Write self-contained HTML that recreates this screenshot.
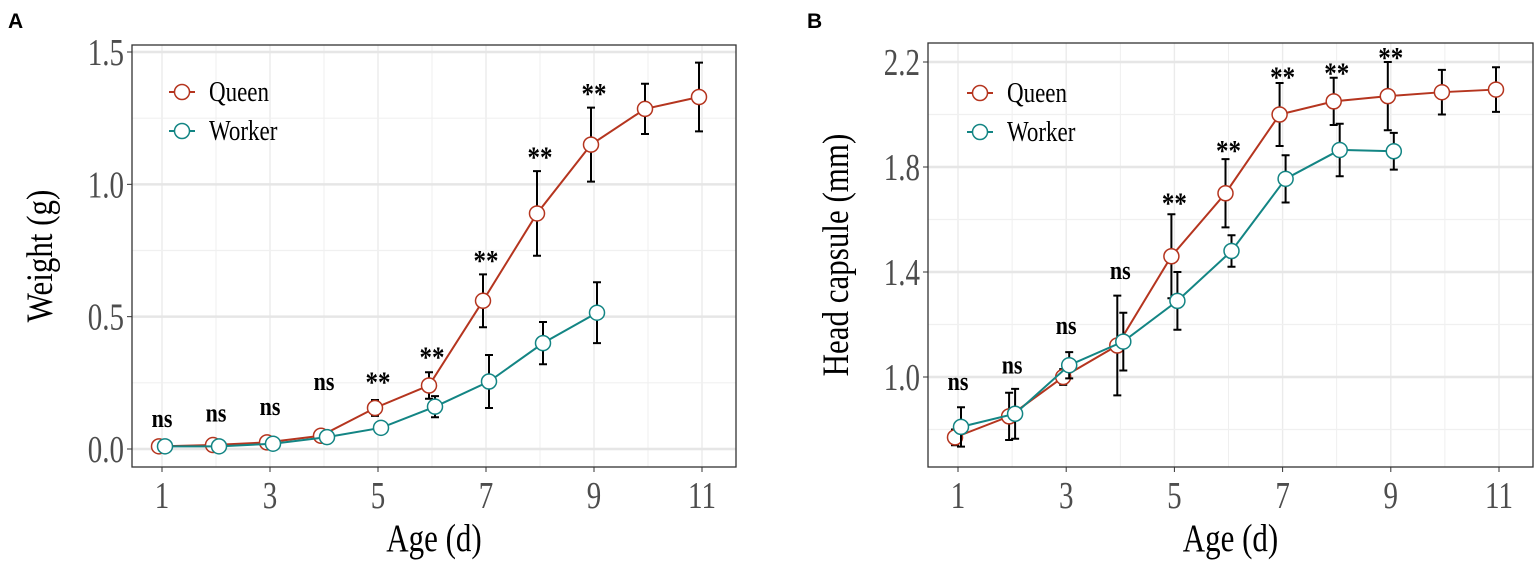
<!DOCTYPE html>
<html><head><meta charset="utf-8"><style>
body{margin:0;background:#fff;}
svg{display:block;font-family:"Liberation Serif",serif;}
.pl{font-family:"Liberation Sans",sans-serif;font-weight:bold;font-size:21px;}
</style></head><body>
<svg id="c" width="1535" height="561" viewBox="0 0 1535 561"></svg>
<script>
const ages=[1,2,3,4,5,6,7,8,9,10,11];
const weightQueen=[0.01,0.015,0.025,0.05,0.155,0.24,0.56,0.89,1.15,1.285,1.33];
const weightQueenErr=[0.005,0.005,0.008,0.01,0.03,0.05,0.1,0.16,0.14,0.095,0.13];
const weightWorker=[0.01,0.01,0.02,0.045,0.08,0.16,0.255,0.4,0.515];
const weightWorkerErr=[0.004,0.004,0.006,0.008,0.01,0.04,0.1,0.08,0.115];
const weightSig=["ns","ns","ns","ns","**","**","**","**","**"];
const weightSigY=[0.11,0.13,0.155,0.25,0.26,0.355,0.72,1.11,1.35];
const headQueen=[0.77,0.85,1.0,1.12,1.46,1.70,2.0,2.05,2.07,2.085,2.095];
const headQueenErr=[0.03,0.09,0.03,0.19,0.16,0.13,0.12,0.09,0.13,0.085,0.085];
const headWorker=[0.81,0.86,1.045,1.135,1.29,1.48,1.755,1.865,1.86];
const headWorkerErr=[0.075,0.095,0.05,0.11,0.11,0.06,0.09,0.1,0.07];
const headSig=["ns","ns","ns","ns","**","**","**","**","**"];
const headSigY=[0.977,1.04,1.19,1.40,1.67,1.87,2.15,2.165,2.225];
const xTicks=[1,3,5,7,9,11];
const weightTicks=[0.0,0.5,1.0,1.5];
const headTicks=[1.0,1.4,1.8,2.2];

const svg=document.getElementById('c');
const NS='http://www.w3.org/2000/svg';
function mk(tag,attrs,parent,text){const e=document.createElementNS(NS,tag);for(const k in attrs)e.setAttribute(k,attrs[k]);if(text!==undefined)e.textContent=text;(parent||svg).appendChild(e);return e;}

function panel(o){
  const g=mk('g',{});
  
  
  const X=v=>o.x1+(v-1)*(o.x11-o.x1)/10;
  const Y=v=>o.yA+(v-o.vA)*(o.yB-o.yA)/(o.vB-o.vA);
  const minorX=[];for(let v=0;v<=12;v+=1)minorX.push(v);
  minorX.forEach(v=>{const x=X(v);if(x>o.L&&x<o.R){const l=mk('line',{x1:x,x2:x,y1:o.T,y2:o.B,stroke:'#ebebeb','stroke-width':v%2?1.4:0.8},g);}});
  const st=o.ticks[1]-o.ticks[0];
  for(let v=o.ticks[0]-st*2;v<=o.ticks[o.ticks.length-1]+st*2;v+=st/2){const y=Y(v);if(y>o.T&&y<o.B){const major=o.ticks.some(t=>Math.abs(t-v)<1e-6);const l=mk('line',{x1:o.L,x2:o.R,y1:y,y2:y,stroke:major?'#e6e6e6':'#f0f0f0','stroke-width':major?2.5:1.2},g);}}
  const bx=mk('rect',{x:o.L,y:o.T,width:o.R-o.L,height:o.B-o.T,fill:'none',stroke:'#333','stroke-width':1.3},g);
  
  xTicks.forEach(v=>{mk('line',{x1:X(v),x2:X(v),y1:o.B,y2:o.B+5,stroke:'#333'},g);const t=mk('text',{x:0,y:0,'text-anchor':'middle','font-size':29,fill:'#4d4d4d',transform:`translate(${X(v)},${o.B+41}) scale(1,1.3)`},g,v);});
  o.ticks.forEach(v=>{mk('line',{x1:o.L-5,x2:o.L,y1:Y(v),y2:Y(v),stroke:'#333'},g);const t=mk('text',{x:0,y:0,'text-anchor':'end','font-size':29,fill:'#4d4d4d',transform:`translate(${o.L-8},${Y(v)+13}) scale(1,1.3)`},g,v.toFixed(1));});
  const xt=mk('text',{x:0,y:0,'text-anchor':'middle','font-size':31,fill:'#000',transform:`translate(${(o.L+o.R)/2},${551}) scale(1,1.25)`},g,'Age (d)');
  
  const yt=mk('text',{x:0,y:0,'text-anchor':'middle','font-size':31,fill:'#000',transform:`translate(${o.L-80},${(o.T+o.B)/2}) rotate(-90) scale(1,1.2)`},g,o.ytitle);
  
  const lab=mk('text',{x:o.labX,y:28,class:'pl'},g,o.letter);
  
  function series(vals,errs,col,dx,nm){
    const pts=vals.map((v,i)=>[X(ages[i])+dx,Y(v)]);
    vals.forEach((v,i)=>{const x=pts[i][0];const a=Y(v+errs[i]),b=Y(v-errs[i]);
      const e=mk('path',{d:`M${x},${a}V${b}M${x-4},${a}H${x+4}M${x-4},${b}H${x+4}`,stroke:'#000','stroke-width':2,fill:'none'},g);
      });
    const l=mk('polyline',{points:pts.map(p=>p.join(',')).join(' '),fill:'none',stroke:col,'stroke-width':2},g);
    
    pts.forEach(p=>{const c=mk('circle',{cx:p[0],cy:p[1],r:7.5,fill:'#fff',stroke:col,'stroke-width':1.5},g);});
  }
  series(o.q,o.qe,'#b5351f',-3,'queen');
  series(o.w,o.we,'#138584',3,'worker');
  o.sig.forEach((s,i)=>{const t=mk('text',{x:0,y:0,'text-anchor':'middle','font-size':s=='ns'?22:25,'font-weight':'bold',fill:'#000',transform:`translate(${X(ages[i])},${Y(o.sigY[i])+(s=='ns'?7:12)}) scale(1,1.2)`},g,s);});
  [['Queen','#b5351f',o.legY],['Worker','#138584',o.legY+39]].forEach(([n,c,y])=>{
    const lg=mk('g',{},g);
    mk('line',{x1:o.legX-13,x2:o.legX+13,y1:y,y2:y,stroke:c,'stroke-width':2},lg);
    mk('circle',{cx:o.legX,cy:y,r:7.5,fill:'#fff',stroke:c,'stroke-width':1.5},lg);
    mk('text',{x:0,y:0,'font-size':23,fill:'#000',transform:`translate(${o.legX+27},${y+9}) scale(1,1.25)`},lg,n);
  });
}
panel({name:'panel-a-weight',letter:'A',labX:8,L:132,R:736,T:45,B:467,x1:162,x11:702,yA:449,vA:0,yB:52,vB:1.5,ticks:weightTicks,ytitle:'Weight (g)',q:weightQueen,qe:weightQueenErr,w:weightWorker,we:weightWorkerErr,sig:weightSig,sigY:weightSigY,legX:182,legY:92});
panel({name:'panel-b-head-capsule',letter:'B',labX:807,L:928,R:1533,T:43,B:467,x1:958,x11:1499,yA:377,vA:1.0,yB:62,vB:2.2,ticks:headTicks,ytitle:'Head capsule (mm)',q:headQueen,qe:headQueenErr,w:headWorker,we:headWorkerErr,sig:headSig,sigY:headSigY,legX:980,legY:93});
</script>
</body></html>
